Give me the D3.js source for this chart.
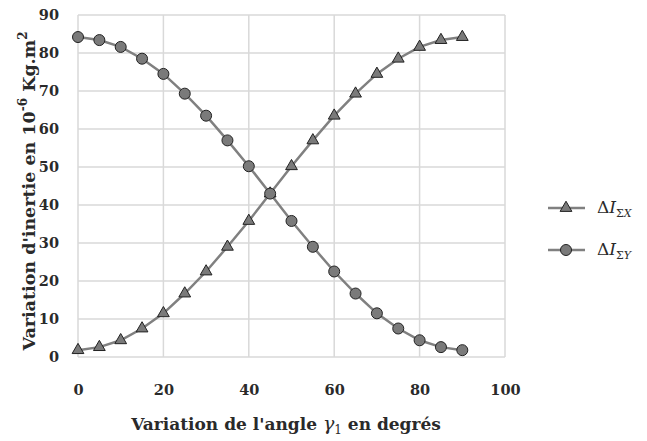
<!DOCTYPE html>
<html>
<head>
<meta charset="utf-8">
<script src="https://cdn.jsdelivr.net/npm/d3@7"></script>
<style>
  body { margin: 0; background: #fff; }
  text { font-family: "DejaVu Serif", serif; }
</style>
</head>
<body>
<svg id="chart" width="647" height="441"></svg>
<script>
// angle gamma1 (degrees)
var angles = [0, 5, 10, 15, 20, 25, 30, 35, 40, 45, 50, 55, 60, 65, 70, 75, 80, 85, 90];
// delta I sigma X (triangles)
var inertiaX = [1.8, 2.6, 4.4, 7.5, 11.5, 16.7, 22.5, 29.0, 35.8, 43.0, 50.2, 57.0, 63.5, 69.3, 74.5, 78.5, 81.6, 83.4, 84.2];
// delta I sigma Y (circles)
var inertiaY = [84.2, 83.4, 81.6, 78.5, 74.5, 69.3, 63.5, 57.0, 50.2, 43.0, 35.8, 29.0, 22.5, 16.7, 11.5, 7.5, 4.4, 2.6, 1.8];
var xTicks = [0, 20, 40, 60, 80, 100];
var yTicks = [0, 10, 20, 30, 40, 50, 60, 70, 80, 90];

var svg = d3.select("#chart");
var margin = { left: 78, top: 15, right: 142, bottom: 84 };
var W = 647 - margin.left - margin.right;
var H = 441 - margin.top - margin.bottom;

var x = d3.scaleLinear().domain([0, 100]).range([0, W]);
var y = d3.scaleLinear().domain([0, 90]).range([H, 0]);

var g = svg.append("g").attr("transform", `translate(${margin.left},${margin.top})`);

// grille
g.selectAll(".hg").data(yTicks).enter().append("line")
  .attr("x1", 0).attr("x2", W)
  .attr("y1", d => y(d)).attr("y2", d => y(d))
  .attr("stroke", "#d9d9d9").attr("stroke-width", 1.5);
g.selectAll(".vg").data(xTicks).enter().append("line")
  .attr("y1", 0).attr("y2", H)
  .attr("x1", d => x(d)).attr("x2", d => x(d))
  .attr("stroke", "#d9d9d9").attr("stroke-width", 1.5);

// axes (labels only)
var ax = g.append("g").attr("transform", `translate(0,${H})`)
  .call(d3.axisBottom(x).tickValues(xTicks).tickSize(0).tickPadding(28));
var ay = g.append("g")
  .call(d3.axisLeft(y).tickValues(yTicks).tickSize(0).tickPadding(19));
[ax, ay].forEach(a => {
  a.select(".domain").remove();
  a.selectAll("text").attr("font-family", "DejaVu Serif").attr("font-weight", "bold")
    .attr("font-size", 14.5).attr("fill", "#2a2a2a");
});

// séries
var line = d3.line().x((d, i) => x(angles[i])).y(d => y(d));
[inertiaX, inertiaY].forEach(s => {
  g.append("path").datum(s).attr("fill", "none")
    .attr("stroke", "#808080").attr("stroke-width", 2.5).attr("d", line);
});

var tri = d3.symbol().type(d3.symbolTriangle).size(60);
g.selectAll(".tri").data(inertiaX).enter().append("path")
  .attr("d", tri)
  .attr("transform", (d, i) => `translate(${x(angles[i])},${y(d)})`)
  .attr("fill", "#7a7a7a").attr("stroke", "#222").attr("stroke-width", 1);
g.selectAll(".circ").data(inertiaY).enter().append("circle")
  .attr("cx", (d, i) => x(angles[i])).attr("cy", d => y(d)).attr("r", 5.5)
  .attr("fill", "#7a7a7a").attr("stroke", "#222").attr("stroke-width", 1);

// titres
svg.append("text")
  .attr("x", 286).attr("y", 430)
  .attr("text-anchor", "middle").attr("font-weight", "bold").attr("font-size", 17).attr("fill", "#2a2a2a")
  .html('Variation de l\'angle  <tspan font-style="italic" font-weight="normal" font-size="19">γ</tspan><tspan font-size="12" font-weight="normal" dy="4">1</tspan><tspan dy="-4"> en degrés</tspan>');

svg.append("text")
  .attr("transform", `translate(35,191) rotate(-90)`)
  .attr("text-anchor", "middle").attr("font-weight", "bold").attr("font-size", 17.5).attr("fill", "#2a2a2a")
  .html('Variation d\'inertie en 10<tspan font-size="12" dy="-8">-6</tspan><tspan dy="8"> Kg.m</tspan><tspan font-size="12" dy="-8">2</tspan>');

// légende
var legend = [
  { name: "X", shape: "tri", ly: 208 },
  { name: "Y", shape: "circ", ly: 250 }
];
legend.forEach(l => {
  svg.append("line").attr("x1", 548).attr("x2", 585).attr("y1", l.ly).attr("y2", l.ly)
    .attr("stroke", "#808080").attr("stroke-width", 2.5);
  if (l.shape === "tri") {
    svg.append("path").attr("d", tri).attr("transform", `translate(566,${l.ly})`)
      .attr("fill", "#7a7a7a").attr("stroke", "#222");
  } else {
    svg.append("circle").attr("cx", 566).attr("cy", l.ly).attr("r", 5.5)
      .attr("fill", "#7a7a7a").attr("stroke", "#222");
  }
  svg.append("text").attr("x", 597).attr("y", l.ly + 5).attr("font-size", 17).attr("fill", "#2a2a2a")
    .html('Δ<tspan font-style="italic">I</tspan><tspan font-size="11" dy="4">Σ<tspan font-style="italic">' + l.name + '</tspan></tspan>');
});
</script>
</body>
</html>
